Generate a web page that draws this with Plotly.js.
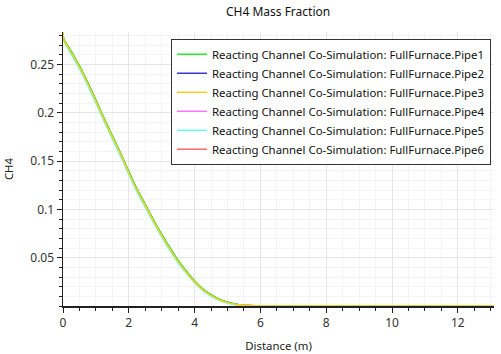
<!DOCTYPE html>
<html>
<head>
<meta charset="utf-8">
<script src="https://cdn.plot.ly/plotly-3.0.1.min.js"></script>
<style>html,body{margin:0;padding:0;background:#fff}#chart{width:501px;height:354px}</style>
</head>
<body>
<div id="chart"></div>
<script>
// Distance (m)
var distance = [0, 0.02, 0.25, 0.5, 0.75, 1, 1.25, 1.5, 1.75, 2, 2.25, 2.5, 2.75, 3, 3.25, 3.5, 3.75, 4, 4.25, 4.5, 4.75, 5, 5.25, 5.5, 6, 6.5, 7, 8, 9, 10, 11, 12, 13.1];
// CH4 mass fraction per pipe
var pipe1 = [0.29, 0.2768, 0.2637, 0.2487, 0.2317, 0.2132, 0.1942, 0.1762, 0.1582, 0.1392, 0.1212, 0.1052, 0.0892, 0.0742, 0.0602, 0.0472, 0.0361, 0.0260, 0.0179, 0.0118, 0.0071, 0.0040, 0.0019, 0.0008, 0.0001, 0, 0, 0, 0, 0, 0, 0, 0];
var pipe2 = [0.29, 0.2765, 0.2633, 0.2483, 0.2313, 0.2128, 0.1938, 0.1758, 0.1578, 0.1388, 0.1208, 0.1048, 0.0888, 0.0738, 0.0598, 0.0468, 0.0357, 0.0256, 0.0176, 0.0115, 0.0069, 0.0038, 0.0018, 0.0008, 0.0001, 0, 0, 0, 0, 0, 0, 0, 0];
var pipe3 = [0.29, 0.276, 0.2625, 0.2475, 0.2305, 0.212, 0.193, 0.175, 0.157, 0.138, 0.120, 0.104, 0.088, 0.073, 0.059, 0.046, 0.035, 0.025, 0.017, 0.011, 0.0065, 0.0035, 0.0016, 0.0007, 0.0001, 0, 0, 0, 0, 0, 0, 0, 0];
var pipe4 = [0.29, 0.276, 0.2625, 0.2475, 0.2305, 0.212, 0.193, 0.175, 0.157, 0.138, 0.120, 0.104, 0.088, 0.073, 0.059, 0.046, 0.035, 0.025, 0.017, 0.011, 0.0065, 0.0035, 0.0016, 0.0007, 0.0001, 0, 0, 0, 0, 0, 0, 0, 0];
var pipe5 = [0.29, 0.2748, 0.2607, 0.2455, 0.2285, 0.2100, 0.1910, 0.1730, 0.1550, 0.1360, 0.1180, 0.1022, 0.0863, 0.0714, 0.0575, 0.0446, 0.0338, 0.0239, 0.0160, 0.0101, 0.0058, 0.0029, 0.0012, 0.0004, 0.0001, 0, 0, 0, 0, 0, 0, 0, 0];
var pipe6 = [0.29, 0.276, 0.2625, 0.2475, 0.2305, 0.212, 0.193, 0.175, 0.157, 0.138, 0.120, 0.104, 0.088, 0.073, 0.059, 0.046, 0.035, 0.025, 0.017, 0.011, 0.0065, 0.0035, 0.0016, 0.0007, 0.0001, 0, 0, 0, 0, 0, 0, 0, 0];
var seriesNames = ["Reacting Channel Co-Simulation: FullFurnace.Pipe1", "Reacting Channel Co-Simulation: FullFurnace.Pipe2", "Reacting Channel Co-Simulation: FullFurnace.Pipe3", "Reacting Channel Co-Simulation: FullFurnace.Pipe4", "Reacting Channel Co-Simulation: FullFurnace.Pipe5", "Reacting Channel Co-Simulation: FullFurnace.Pipe6"];
var seriesValues = [pipe1, pipe2, pipe3, pipe4, pipe5, pipe6];
var seriesColors = ["#22ee22", "#3a3ad0", "#ffcc22", "#ff77ff", "#66ffff", "#ff6a6a"];
var drawOrder = [1, 3, 5, 0, 4, 2];
var yTickVals = [0.05, 0.1, 0.15, 0.2, 0.25];
var yTickText = ["0.05", "0.1", "0.15", "0.2", "0.25"];

var traces = [];
drawOrder.forEach(function (i) {
  traces.push({
    x: distance, y: seriesValues[i], name: seriesNames[i], type: "scatter", mode: "lines",
    legendrank: i + 1,
    line: {color: seriesColors[i], width: 1.5, shape: "spline", smoothing: 0.6}
  });
});
var fnt = "Noto Sans, Open Sans, DejaVu Sans, sans-serif";
var layout = {
  width: 501, height: 354,
  margin: {l: 63, r: 7, t: 32, b: 48},
  paper_bgcolor: "#fff", plot_bgcolor: "#fff",
  font: {family: fnt, size: 12, color: "#222"},
  title: {text: "CH4 Mass Fraction", x: 0.555, xanchor: "center", y: 0.968, yanchor: "middle", font: {family: fnt, size: 12, color: "#111"}},
  showlegend: true,
  legend: {
    x: 0.993, xanchor: "right", y: 0.975, yanchor: "top",
    bgcolor: "#fff", bordercolor: "#333", borderwidth: 1,
    itemwidth: 30,
    font: {family: fnt, size: 11.4, color: "#111"}
  },
  xaxis: {
    range: [0, 13.1], tickmode: "linear", tick0: 0, dtick: 2,
    showline: true, linecolor: "#222", linewidth: 1.5,
    ticks: "outside", ticklen: 5, tickcolor: "#222", tickwidth: 1,
    showgrid: true, gridcolor: "#e6e6e6", gridwidth: 1, zeroline: false,
    tickfont: {family: fnt, size: 12, color: "#333"},
    minor: {tickmode: "linear", tick0: 0, dtick: 0.5, ticks: "outside", ticklen: 3, tickcolor: "#222", showgrid: true, gridcolor: "#f4f4f4"},
    title: {text: "Distance (m)", standoff: 12, font: {family: fnt, size: 11.4, color: "#222"}}
  },
  yaxis: {
    range: [0, 0.2838], tickmode: "array", tickvals: yTickVals, ticktext: yTickText,
    showline: true, linecolor: "#222", linewidth: 1.5,
    ticks: "outside", ticklen: 5, tickcolor: "#222", tickwidth: 1,
    showgrid: true, gridcolor: "#e6e6e6", gridwidth: 1, zeroline: false,
    tickfont: {family: fnt, size: 12, color: "#333"},
    minor: {tickmode: "linear", tick0: 0, dtick: 0.01, ticks: "outside", ticklen: 3, tickcolor: "#222", showgrid: true, gridcolor: "#f4f4f4"},
    title: {text: "CH4", standoff: 14, font: {family: fnt, size: 11.4, color: "#222"}}
  }
};
Plotly.newPlot("chart", traces, layout, {displayModeBar: false, staticPlot: true});
</script>
</body>
</html>
